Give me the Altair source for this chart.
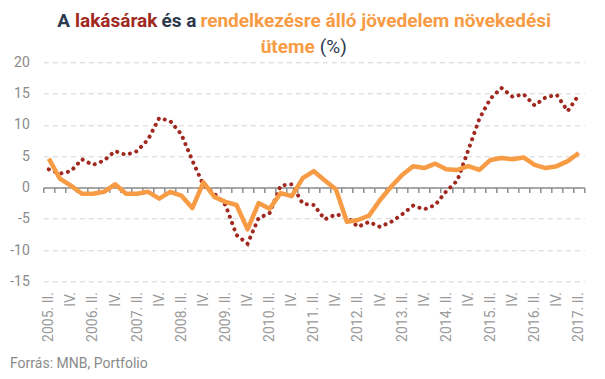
import altair as alt
import pandas as pd

# ---- data -------------------------------------------------------------
years = list(range(2005, 2018))
roman = ["I.", "II.", "III.", "IV."]
quarters = [f"{y}. {r}" for y in years for r in roman][1:-2]  # 2005. II. ... 2017. II.

house_prices = [2.9, 2.2, 2.6, 4.5, 3.6, 4.3, 5.8, 5.2, 5.8, 7.7, 11.1, 10.6, 8.5, 4.3,
                0.4, -1.0, -2.8, -7.6, -9.0, -4.9, -4.1, 0.3, 0.5, -2.6, -2.8, -5.1,
                -4.3, -4.7, -6.3, -5.5, -6.3, -5.5, -4.3, -2.9, -3.5, -2.8, -0.6, 1.1,
                6.0, 11.0, 14.2, 15.9, 14.5, 14.9, 13.1, 14.4, 14.8, 12.2, 14.8]
income = [4.6, 1.4, 0.3, -1.0, -1.0, -0.7, 0.5, -1.0, -1.0, -0.7, -1.8, -0.7, -1.3, -3.3,
          0.8, -1.5, -2.3, -2.8, -6.7, -2.5, -3.4, -0.9, -1.4, 1.5, 2.6, 1.1, -0.3, -5.5,
          -5.2, -4.5, -2.0, 0.1, 2.0, 3.4, 3.1, 3.8, 2.9, 2.8, 3.4, 2.8, 4.4, 4.7, 4.5,
          4.8, 3.6, 3.1, 3.4, 4.2, 5.5]
y_ticks = [-15, -10, -5, 0, 5, 10, 15, 20]

df = pd.DataFrame({"q": quarters, "price": house_prices, "income": income})

# ---- layout -----------------------------------------------------------
W, H = 541, 219
Y_MIN, Y_MAX = -15, 20
zero_px = H * Y_MAX / (Y_MAX - Y_MIN)

NAVY = "#2c3a4d"
RED = "#a0291f"
ORANGE = "#f89b45"
GRAY = "#8e8e8e"

label_expr = ("split(datum.value, ' ')[1] == 'II.' ? datum.value : "
              "(split(datum.value, ' ')[1] == 'IV.' ? 'IV.' : '')")

x_axis = alt.Axis(
    labelExpr=label_expr, labelAngle=270, labelAlign="right",
    labelBaseline="middle", labelFont="Roboto", labelFontSize=14,
    labelColor="#9a9a9a", labelPadding=99, labelOverlap=False,
    ticks=True, tickSize=5, tickColor=GRAY, tickWidth=1.5, tickBand="extent",
    domain=True, domainColor=GRAY, domainWidth=1.5,
    offset=-(H - zero_px), grid=False,
)
x_scale = alt.Scale(type="band", paddingInner=0, paddingOuter=0)

y_axis = alt.Axis(
    values=y_ticks, title=None, grid=True, gridDash=[5, 4], gridColor="#d3d3d3",
    gridWidth=1, ticks=False, domain=False, labelPadding=14, labelFont="Roboto",
    labelFontSize=14, labelColor="#8a8a8a", labelExpr="'' + datum.value",
    labelOverlap=False,
)
y_scale = alt.Scale(domain=[Y_MIN, Y_MAX], nice=False)

base = alt.Chart(df)

price_line = base.mark_line(
    color=RED, strokeWidth=4, strokeDash=[0.1, 6.6], strokeCap="round"
).encode(
    x=alt.X("q:O", sort=quarters, title=None, bandPosition=0.5, scale=x_scale, axis=x_axis),
    y=alt.Y("price:Q", title=None, scale=y_scale, axis=y_axis),
)

income_line = base.mark_line(
    color=ORANGE, strokeWidth=4.5, strokeJoin="round"
).encode(
    x=alt.X("q:O", sort=quarters, title=None, bandPosition=0.5, scale=x_scale, axis=x_axis),
    y=alt.Y("income:Q", title=None, scale=y_scale, axis=y_axis),
)

one = pd.DataFrame({"k": [0]})


def txt(text, x, y, color, weight="bold", size=19, align="left"):
    return alt.Chart(one).mark_text(
        font="Roboto", fontSize=size, fontWeight=weight, align=align,
        baseline="alphabetic", color=color,
    ).encode(x=alt.value(x), y=alt.value(y), text=alt.value(text))


OX, OY = 43.3, 62.3  # plot origin on page
t1 = 27 - OY
t2 = 53 - OY
texts = [
    txt("A", 57.3 - OX, t1, NAVY),
    txt("lakásárak", 75 - OX, t1, RED),
    txt("és a", 161.5 - OX, t1, NAVY),
    txt("rendelkezésre álló jövedelem növekedési", 200.4 - OX, t1, ORANGE),
    txt("üteme", 260.7 - OX, t2, ORANGE),
    txt("(%)", 319.8 - OX, t2, NAVY, weight="normal"),
    txt("Forrás: MNB, Portfolio", 10 - OX, 368 - OY, "#8a8a8a", weight="normal", size=14),
]

chart = alt.layer(price_line, income_line, *texts).properties(
    width=W, height=H, background="white",
    padding={"left": 35.3, "top": 54.3, "right": 589 - 35.3 - W, "bottom": 363 - 54.3 - H},
    autosize="none",
).configure_view(stroke="transparent", strokeWidth=0)

chart.save("out.html", embed_options={"renderer": "svg", "actions": False})
